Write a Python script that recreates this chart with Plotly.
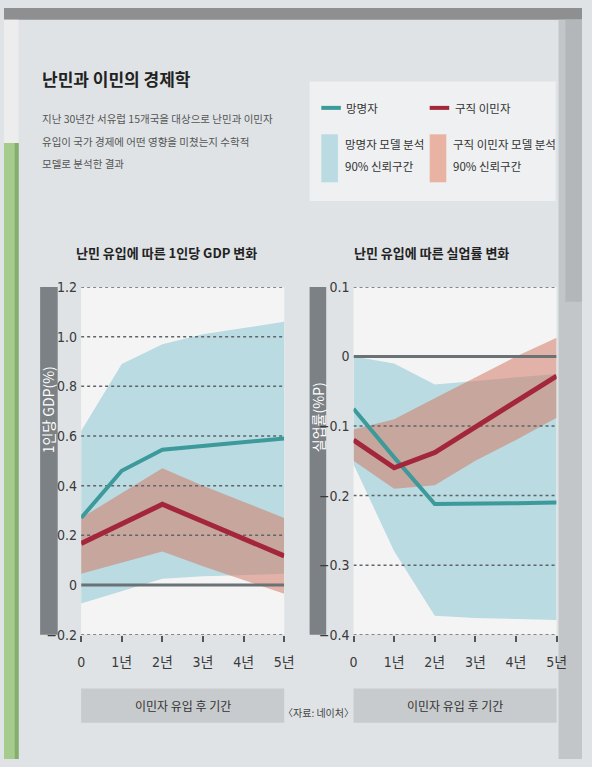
import plotly.graph_objects as go

# ---------------------------------------------------------------
# data
years = [0, 1, 2, 3, 4, 5]
year_labels = ["0", "1년", "2년", "3년", "4년", "5년"]

# 1인당 GDP 변화 (%)
gdp_asylum = [0.27, 0.46, 0.545, 0.56, 0.575, 0.59]
gdp_asylum_hi = [0.62, 0.89, 0.97, 1.01, 1.035, 1.06]
gdp_asylum_lo = [-0.075, -0.025, 0.025, 0.035, 0.04, 0.045]
gdp_migrant = [0.167, 0.246, 0.325, 0.256, 0.186, 0.117]
gdp_migrant_hi = [0.27, 0.37, 0.47, 0.40, 0.335, 0.27]
gdp_migrant_lo = [0.045, 0.09, 0.135, 0.075, 0.02, -0.035]

# 실업률 변화 (%P)
unemp_asylum = [-0.075, -0.145, -0.212, -0.212, -0.211, -0.21]
unemp_asylum_hi = [0.0, -0.01, -0.04, -0.035, -0.03, -0.025]
unemp_asylum_lo = [-0.155, -0.28, -0.373, -0.376, -0.378, -0.379]
unemp_migrant = [-0.12, -0.16, -0.138, -0.101, -0.064, -0.028]
unemp_migrant_hi = [-0.105, -0.09, -0.06, -0.03, 0.0, 0.027]
unemp_migrant_lo = [-0.15, -0.19, -0.185, -0.15, -0.12, -0.088]

gdp_ticks = [1.2, 1.0, 0.8, 0.6, 0.4, 0.2, 0, -0.2]
gdp_ticktext = ["1.2", "1.0", "0.8", "0.6", "0.4", "0.2", "0", "−0.2"]
unemp_ticks = [0.1, 0, -0.1, -0.2, -0.3, -0.4]
unemp_ticktext = ["0.1", "0", "−0.1", "−0.2", "−0.3", "−0.4"]

# ---------------------------------------------------------------
W, H = 592, 767
TEAL = "#3d9a9b"
RED = "#a3263b"
TEAL_BAND = "#b9dbe1"
RED_BAND = "rgba(212,122,104,0.55)"
GRID = "#5f6468"
PANEL = "#dfe3e6"
NARROW = "Liberation Sans Narrow, DejaVu Sans Condensed, Roboto Condensed, Noto Sans CJK KR, sans-serif"
KR = "Noto Sans CJK KR, sans-serif"


def px(x):
    return x / W


def py(y):
    return 1 - y / H


fig = go.Figure()


def add_panel(xa, ya, line_a, hi_a, lo_a, line_m, hi_m, lo_m, ticks):
    xs = years + years[::-1]
    fig.add_trace(go.Scatter(x=xs, y=hi_a + lo_a[::-1], fill="toself",
                             fillcolor=TEAL_BAND, line=dict(width=0),
                             mode="lines", xaxis=xa, yaxis=ya, hoverinfo="skip"))
    fig.add_trace(go.Scatter(x=xs, y=hi_m + lo_m[::-1], fill="toself",
                             fillcolor=RED_BAND, line=dict(width=0),
                             mode="lines", xaxis=xa, yaxis=ya, hoverinfo="skip"))
    # gridlines drawn on top of the bands
    for v in ticks:
        if v == 0:
            ln = dict(color="#6b7276", width=3)
        else:
            ln = dict(color=GRID, width=1.5, dash="dot")
        fig.add_trace(go.Scatter(x=[years[0], years[-1]], y=[v, v], mode="lines",
                                 line=ln, xaxis=xa, yaxis=ya, hoverinfo="skip"))
    fig.add_trace(go.Scatter(x=years, y=line_a, mode="lines", name="망명자",
                             line=dict(color=TEAL, width=4), xaxis=xa, yaxis=ya))
    fig.add_trace(go.Scatter(x=years, y=line_m, mode="lines", name="구직 이민자",
                             line=dict(color=RED, width=5), xaxis=xa, yaxis=ya))


add_panel("x", "y", gdp_asylum, gdp_asylum_hi, gdp_asylum_lo,
          gdp_migrant, gdp_migrant_hi, gdp_migrant_lo, gdp_ticks)
add_panel("x2", "y2", unemp_asylum, unemp_asylum_hi, unemp_asylum_lo,
          unemp_migrant, unemp_migrant_hi, unemp_migrant_lo, unemp_ticks)

ydom = [py(640), py(285)]
xaxis_style = dict(range=[0, 5], tickvals=years, ticktext=year_labels,
                   showgrid=False, zeroline=False, showline=False,
                   ticks="outside", ticklen=6, tickwidth=1.5, tickcolor="#555",
                   ticklabelstandoff=9,
                   tickfont=dict(family=NARROW, size=14, color="#3a3a3a"))
yaxis_style = dict(showgrid=False, zeroline=False, showline=False, ticks="",
                   tickfont=dict(family=NARROW, size=14, color="#3a3a3a"),
                   ticklabelstandoff=3)

fig.update_layout(
    autosize=True,
    margin=dict(l=0, r=0, t=0, b=0),
    paper_bgcolor=PANEL, plot_bgcolor="#f4f4f4",
    showlegend=False,
    xaxis=dict(domain=[px(79), px(287)], anchor="y", **xaxis_style),
    yaxis=dict(domain=ydom, anchor="x", range=[-0.2, 1.2],
               tickvals=gdp_ticks, ticktext=gdp_ticktext, **yaxis_style),
    xaxis2=dict(domain=[px(358), px(566)], anchor="y2", **xaxis_style),
    yaxis2=dict(domain=ydom, anchor="x2", range=[-0.4, 0.1],
                tickvals=unemp_ticks, ticktext=unemp_ticktext, **yaxis_style),
)

shapes = []
annotations = []


def rect(x0, y0, x1, y1, color, layer="below"):
    shapes.append(dict(type="rect", xref="paper", yref="paper",
                       x0=px(x0), x1=px(x1), y0=py(y1), y1=py(y0),
                       fillcolor=color, line=dict(width=0), layer=layer))


def text(x, y, s, size, color="#333", bold=False, xanchor="left", family=KR, angle=0):
    if bold:
        s = "<b>" + s + "</b>"
    annotations.append(dict(x=px(x), y=py(y), xref="paper", yref="paper",
                            text=s, showarrow=False, xanchor=xanchor, yanchor="middle",
                            textangle=angle, font=dict(family=family, size=size, color=color)))


# surroundings of the photographed page
rect(0, 0, W, 12, "#8e8f90")
rect(0, 12, 15, 138, "#ededed")
rect(0, 138, 15, H, "#a6cc8d")
rect(11, 138, 15, H, "#86ad70")
rect(568, 12, W, H, "#c3c6c8")
rect(575, 12, W, 300, "#b4b7b9")

# header
text(37, 72, "난민과 이민의 경제학", 17, "#222", bold=True)
text(37, 113, "지난 30년간 서유럽 15개국을 대상으로 난민과 이민자", 10.5, "#555")
text(37, 136, "유입이 국가 경제에 어떤 영향을 미쳤는지 수학적", 10.5, "#555")
text(37, 159, "모델로 분석한 결과", 10.5, "#555")

# legend box
rect(313, 75, 565, 197, "#eef0f1")
shapes.append(dict(type="line", xref="paper", yref="paper", x0=px(325), x1=px(345),
                   y0=py(102), y1=py(102), line=dict(color=TEAL, width=4)))
shapes.append(dict(type="line", xref="paper", yref="paper", x0=px(436), x1=px(456),
                   y0=py(102), y1=py(102), line=dict(color=RED, width=4)))
rect(325, 129, 342, 178, TEAL_BAND)
rect(436, 129, 453, 178, "#e8b3a2")
text(348, 102, "망명자", 11.5, "#333")
text(460, 102, "구직 이민자", 11.5, "#333")
text(347, 139, "망명자 모델 분석", 11.5, "#333")
text(347, 161, "90% 신뢰구간", 11.5, "#333")
text(458, 139, "구직 이민자 모델 분석", 11.5, "#333")
text(458, 161, "90% 신뢰구간", 11.5, "#333")

# chart titles
text(166, 250, "난민 유입에 따른 1인당 GDP 변화", 13, "#222", bold=True, xanchor="center")
text(438, 250, "난민 유입에 따른 실업률 변화", 13, "#222", bold=True, xanchor="center")

# y-axis title bars
rect(37, 285, 55, 640, "#7b8185")
rect(313, 285, 330, 640, "#7b8185")
text(46, 410, "1인당 GDP(%)", 14, "white", xanchor="center", angle=-90)
text(321.5, 418, "실업률(%P)", 14, "white", xanchor="center", angle=-90)

# x-axis title bars
rect(79, 695, 287, 730, "#c8cbce")
rect(358, 695, 566, 730, "#c8cbce")
text(183, 712, "이민자 유입 후 기간", 12, "#333", xanchor="center")
text(462, 712, "이민자 유입 후 기간", 12, "#333", xanchor="center")

text(322, 720, "〈자료: 네이처〉", 10, "#444", xanchor="center")

fig.update_layout(shapes=shapes, annotations=annotations)

# fill the browser window exactly, without the default page margin
fig.write_html(
    "out.html",
    config={"displayModeBar": False},
    default_width="100vw",
    default_height="100vh",
    post_script="document.documentElement.style.margin='0';document.body.style.margin='0';"
                "document.body.style.overflow='hidden';",
)
